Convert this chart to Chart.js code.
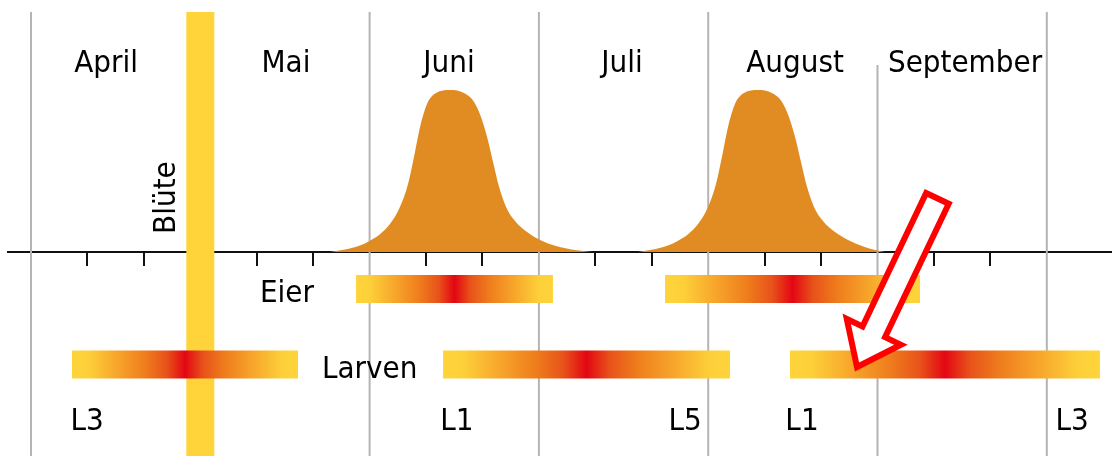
<!DOCTYPE html>
<html lang="de">
<head>
<meta charset="utf-8">
<title>Blüte, Eier und Larven</title>
<script src="https://cdn.jsdelivr.net/npm/chart.js@4.4.1/dist/chart.umd.min.js"></script>
<style>
  html, body { margin: 0; padding: 0; background: #fff; }
  #wrap { width: 1112px; height: 456px; }
</style>
</head>
<body>
<div id="wrap"><canvas id="chart" width="1112" height="456"></canvas></div>
<script>
// x-Achse in Monaten: 0 = Anfang April, 6 = Ende September
const monate = ['April', 'Mai', 'Juni', 'Juli', 'August', 'September'];
const monatsMitte = [0.443, 1.506, 2.469, 3.491, 4.513, 5.517]; // Lage der Monatsnamen
const monatsGrenzen = [0, 1, 2, 3, 4, 5, 6];
const dekaden = [1, 2, 4, 5, 7, 8, 10, 11, 13, 14, 16, 17]; // Teilstriche (Drittel-Monate)

// Flugkurven (relative Höhe 0-100)
const flug1X = [1.766, 1.855, 1.943, 2.002, 2.061, 2.120, 2.179, 2.227, 2.262, 2.298, 2.339, 2.392, 2.475,
                2.558, 2.617, 2.658, 2.694, 2.729, 2.765, 2.806, 2.859, 2.930, 3.007, 3.101, 3.213, 3.314];
const flug1Y = [0, 1.5, 4, 7, 11, 17.3, 27.8, 42, 58.6, 77.2, 91.4, 98.1, 100,
                98.1, 92.6, 83.3, 71, 55.6, 40.1, 27.8, 19.1, 12.3, 7.4, 3.7, 1.2, 0];
const flug2X = [3.585, 3.674, 3.762, 3.822, 3.881, 3.940, 3.999, 4.046, 4.081, 4.117, 4.158, 4.211, 4.294,
                4.377, 4.436, 4.477, 4.513, 4.548, 4.584, 4.625, 4.678, 4.749, 4.826, 4.908, 4.985, 5.044];
const flug2Y = [0, 1.5, 4, 7, 11, 17.3, 27.8, 42, 58.6, 77.2, 91.4, 98.1, 100,
                98.1, 92.6, 83.3, 71, 55.6, 40.1, 27.8, 19.1, 12.3, 7.4, 3.7, 1.2, 0];

// Eier und Larven: Beginn / Ende (Monate)
const eierVon = [1.920, 3.745];
const eierBis = [3.083, 5.251];
const larvenVon = [0.242, 2.434, 4.483];
const larvenBis = [1.577, 4.129, 6.314];

// Larvenstadien
const stadien = ['L3', 'L1', 'L5', 'L1', 'L3'];
const stadienX = [0.331, 2.516, 3.863, 4.554, 6.149];

const bluete = 1.0; // Blütezeitpunkt (Ende April)

// Layout (Werte auf der y-Skala)
const OBEN = 148.1, UNTEN = -125.93;
const ZEILE_EIER = -22.8, ZEILE_LARVEN = -69.4;
const SCHRIFT = "'DejaVu Sans Condensed', 'DejaVu Sans', sans-serif";

const GELB = '#FED43A';
const ORANGE = '#E08C22';

// Verlauf gelb -> rot -> gelb für die Balken
function verlauf(chart, von, bis) {
    const x = chart.scales.x;
    if (!x || !chart.chartArea) return GELB;
    const a = x.getPixelForValue(von), b = x.getPixelForValue(bis);
    if (!isFinite(a) || !isFinite(b)) return GELB;
    const g = chart.ctx.createLinearGradient(a, 0, b, 0);
    const stops = [[0, '#FED43A'], [0.07, '#FDD03A'], [0.2, '#F7A52B'], [0.32, '#EF7E1D'], [0.42, '#E8521A'], [0.5, '#E30613']];
    stops.forEach(([p, c]) => { g.addColorStop(p, c); g.addColorStop(1 - p, c); });
    return g;
}

function balken(von, bis, zeile) {
    return von.map((v, i) => ({
        data: [{ x: v, y: zeile }, { x: bis[i], y: zeile }],
        borderColor: (c) => verlauf(c.chart, v, bis[i]),
        borderWidth: 28,
        borderCapStyle: 'butt',
        pointRadius: 0,
        order: 10
    }));
}

function flug(xs, ys) {
    return {
        data: xs.map((x, i) => ({ x: x, y: ys[i] })),
        fill: 'origin',
        backgroundColor: ORANGE,
        borderColor: ORANGE,
        borderWidth: 0,
        pointRadius: 0,
        cubicInterpolationMode: 'monotone',
        order: 40
    };
}

// Beschriftung und Pfeil
const beschriftung = {
    id: 'beschriftung',
    afterDatasetsDraw(chart) {
        const { ctx, scales: { x, y } } = chart;
        ctx.save();
        ctx.fillStyle = '#000';
        ctx.textAlign = 'center';
        ctx.textBaseline = 'alphabetic';
        ctx.font = '31px ' + SCHRIFT;

        monate.forEach((m, i) => {
            ctx.fillText(m, x.getPixelForValue(monatsMitte[i]), y.getPixelForValue(111.1));
        });
        ctx.fillText('Eier', x.getPixelForValue(1.512), y.getPixelForValue(-30.9));
        ctx.fillText('Larven', x.getPixelForValue(2.0), y.getPixelForValue(-77.8));
        stadien.forEach((s, i) => {
            ctx.fillText(s, x.getPixelForValue(stadienX[i]), y.getPixelForValue(-109.9));
        });

        ctx.save();
        ctx.translate(x.getPixelForValue(0.8505), y.getPixelForValue(33.6));
        ctx.rotate(-Math.PI / 2);
        ctx.fillText('Blüte', 0, 0);
        ctx.restore();

        // Pfeil
        const p0 = { x: x.getPixelForValue(5.354), y: y.getPixelForValue(33.1) };
        const p1 = { x: x.getPixelForValue(4.879), y: y.getPixelForValue(-71) };
        const len = Math.hypot(p1.x - p0.x, p1.y - p0.y);
        const d = { x: (p1.x - p0.x) / len, y: (p1.y - p0.y) / len };
        const n = { x: -d.y, y: d.x };
        const schaft = 12.5, kopf = 30, kopfLaenge = 39;
        const hals = { x: p1.x - d.x * kopfLaenge, y: p1.y - d.y * kopfLaenge };
        const pts = [
            [p0.x + n.x * schaft, p0.y + n.y * schaft],
            [hals.x + n.x * schaft, hals.y + n.y * schaft],
            [hals.x + n.x * kopf, hals.y + n.y * kopf],
            [p1.x, p1.y],
            [hals.x - n.x * kopf, hals.y - n.y * kopf],
            [hals.x - n.x * schaft, hals.y - n.y * schaft],
            [p0.x - n.x * schaft, p0.y - n.y * schaft]
        ];
        ctx.beginPath();
        pts.forEach(([px, py], i) => i ? ctx.lineTo(px, py) : ctx.moveTo(px, py));
        ctx.closePath();
        ctx.fillStyle = '#fff';
        ctx.fill();
        ctx.lineWidth = 6;
        ctx.lineJoin = 'miter';
        ctx.strokeStyle = '#FF0000';
        ctx.stroke();
        ctx.restore();
    }
};

const grenzLinien = {
    data: monatsGrenzen.flatMap(m => [
        { x: m, y: m === 5 ? 115.4 : OBEN },
        { x: m, y: UNTEN },
        { x: m, y: null }
    ]),
    borderColor: '#B4B4B4',
    borderWidth: 2,
    pointRadius: 0,
    spanGaps: false,
    order: 50
};

const blueteBalken = {
    data: [{ x: bluete, y: OBEN }, { x: bluete, y: UNTEN }],
    borderColor: GELB,
    borderWidth: 28,
    borderCapStyle: 'butt',
    pointRadius: 0,
    order: 30
};

new Chart(document.getElementById('chart').getContext('2d'), {
    type: 'line',
    data: {
        datasets: [
            grenzLinien,
            flug(flug1X, flug1Y),
            flug(flug2X, flug2Y),
            blueteBalken,
            ...balken(eierVon, eierBis, ZEILE_EIER),
            ...balken(larvenVon, larvenBis, ZEILE_LARVEN)
        ]
    },
    options: {
        responsive: false,
        animation: false,
        devicePixelRatio: 1,
        events: [],
        layout: { padding: { left: 8, right: 0, top: 0, bottom: 0 } },
        scales: {
            x: {
                type: 'linear',
                min: -0.1359,
                max: 6.3851,
                position: { y: 0 },
                afterBuildTicks: (scale) => { scale.ticks = dekaden.map(d => ({ value: d / 3 })); },
                ticks: { display: false },
                grid: { drawOnChartArea: false, drawTicks: true, tickLength: 13, color: '#111', lineWidth: 2 },
                border: { display: true, color: '#111', width: 2 }
            },
            y: {
                type: 'linear',
                display: false,
                min: UNTEN,
                max: 155.56
            }
        },
        plugins: {
            legend: { display: false },
            tooltip: { enabled: false }
        }
    },
    plugins: [beschriftung]
});
</script>
</body>
</html>
